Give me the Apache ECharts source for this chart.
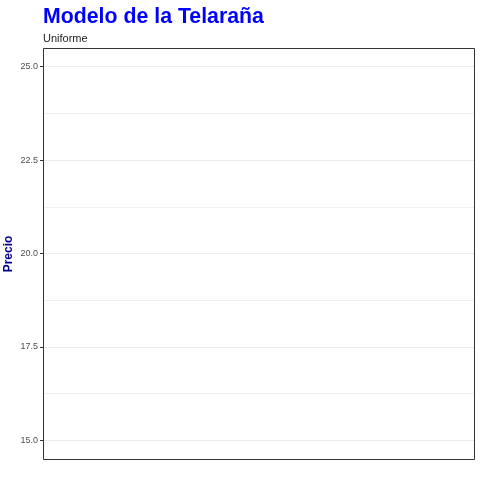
<!DOCTYPE html>
<html>
<head>
<meta charset="utf-8">
<script src="https://cdn.jsdelivr.net/npm/echarts@6/dist/echarts.min.js"></script>
<style>html,body{margin:0;padding:0;background:#fff}#c{width:480px;height:480px}</style>
</head>
<body>
<div id="c"></div>
<script>
const titleText = 'Modelo de la Telaraña';
const subtitleText = 'Uniforme';
const yName = 'Precio';
const yTicks = [15, 17.5, 20, 22.5, 25];
const yMinor = [16.25, 18.75, 21.25, 23.75];
const yRange = [14.5, 25.5];
const precio = []; // no visible points in the reference

const chart = echarts.init(document.getElementById('c'), null, {renderer: 'canvas'});
const gridLines = yMinor.map(v => ({yAxis: v, lineStyle: {color: '#f0f0f0', width: 1, type: 'solid'}}))
  .concat(yTicks.map(v => ({yAxis: v, lineStyle: {color: '#ebebeb', width: 1, type: 'solid'}})));

chart.setOption({
  animation: false,
  title: [
    {text: titleText, left: 38, top: 2, textStyle: {fontFamily: 'Liberation Sans, Arial', fontSize: 21.3, fontWeight: 'bold', color: '#0000FF'}},
    {text: subtitleText, left: 38, top: 28, textStyle: {fontFamily: 'Liberation Sans, Arial', fontSize: 11, fontWeight: 'normal', color: '#222'}}
  ],
  grid: {left: 43, right: 6, top: 48, bottom: 21, containLabel: false, outerBoundsMode: 'none', show: false},
  graphic: [{
    type: 'rect', z: 100, silent: true,
    shape: {x: 43.5, y: 48.5, width: 431, height: 411},
    style: {fill: 'none', stroke: '#333', lineWidth: 1}
  }, {
    type: 'text', z: 100, silent: true,
    x: 9, y: 254, rotation: Math.PI / 2,
    style: {text: yName, fontFamily: 'Liberation Sans, Arial', fontSize: 12, fontWeight: 'bold', fill: '#00008B', align: 'center', verticalAlign: 'middle'}
  }],
  xAxis: {type: 'value', min: 0, max: 1, show: false},
  yAxis: {
    type: 'value', min: yRange[0], max: yRange[1], z: 6,
    axisLine: {show: false},
    axisTick: {show: true, length: 3, lineStyle: {color: '#333'}, customValues: yTicks},
    axisLabel: {customValues: yTicks, formatter: v => v.toFixed(1), fontFamily: 'Liberation Sans, Arial', fontSize: 9, color: '#4d4d4d', margin: 5},
    splitLine: {show: false}
  },
  series: [{
    type: 'scatter', data: precio, silent: true, z: 1,
    markLine: {silent: true, symbol: 'none', label: {show: false}, data: gridLines, animation: false}
  }]
});
</script>
</body>
</html>
